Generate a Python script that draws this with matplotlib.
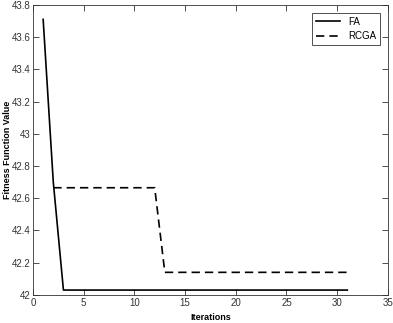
import matplotlib
matplotlib.use("Agg")
import matplotlib.pyplot as plt

plt.rcParams['font.family'] = ['Liberation Sans', 'DejaVu Sans']

# iteration numbers and fitness values
fa_iter = list(range(1, 32))
fa_vals = [43.71, 42.70] + [42.03] * 29

rcga_iter = list(range(2, 32))
rcga_vals = [42.665] * 11 + [42.14] * 19

fig = plt.figure(figsize=(3.93, 3.23), dpi=100)
ax = fig.add_axes([0.084, 0.087, 0.903, 0.898])

ax.plot(fa_iter, fa_vals, color='black', linewidth=1.2, label='FA')
ax.plot(rcga_iter, rcga_vals, color='black', linewidth=1.2, linestyle=(0, (5, 3)), label='RCGA')

ax.set_xlim(0, 35)
ax.set_ylim(42, 43.8)
ax.set_xticks(range(0, 36, 5))
ax.set_yticks([42, 42.2, 42.4, 42.6, 42.8, 43, 43.2, 43.4, 43.6, 43.8])
ax.set_yticklabels(['42', '42.2', '42.4', '42.6', '42.8', '43', '43.2', '43.4', '43.6', '43.8'])
ax.tick_params(direction='in', top=True, right=True, labelsize=7, length=4, width=0.6,
               colors='#333333', labelcolor='#333333', pad=2)
for s in ax.spines.values():
    s.set_linewidth(0.6)
    s.set_color('#333333')

ax.set_xlabel('Iterations', fontsize=6.5, fontweight='bold')
ax.set_ylabel('Fitness Function Value', fontsize=6.5, fontweight='bold')
ax.xaxis.set_label_coords(0.5, -0.062)
ax.yaxis.set_label_coords(-0.06, 0.5)

leg = ax.legend(loc='upper right', fontsize=7, fancybox=False, handlelength=2.5,
                borderaxespad=0.8, framealpha=1)
leg.get_frame().set_edgecolor('#333333')
leg.get_frame().set_linewidth(0.6)

fig.savefig('out.png', dpi=100)
